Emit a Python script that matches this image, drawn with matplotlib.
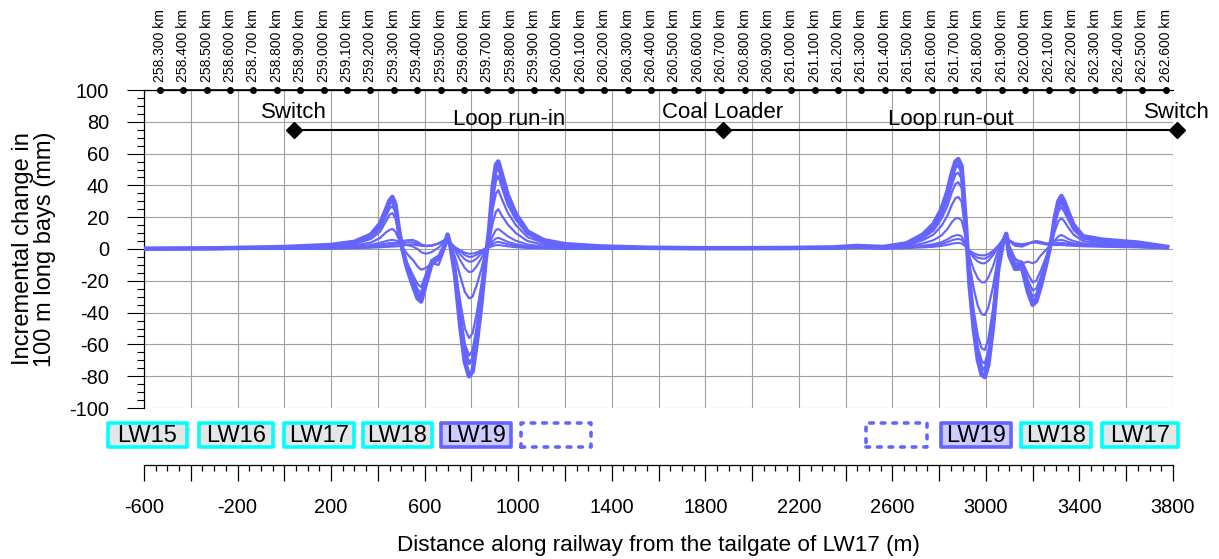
import matplotlib
matplotlib.use('Agg')
import matplotlib.pyplot as plt
from matplotlib.patches import Rectangle
from matplotlib.ticker import MultipleLocator, FuncFormatter

plt.rcParams['font.family'] = ['Liberation Sans', 'DejaVu Sans']
plt.rcParams['axes.unicode_minus'] = False

# ---------------- data ----------------
x_left = [-600, -300, 0, 200, 300, 370, 410, 435, 450, 462, 475, 490, 505, 525, 550,
          570, 585, 605, 630, 660, 685, 698, 712, 730, 752, 772, 790, 805, 822, 842,
          860, 876, 892, 905, 915, 930, 955, 990, 1040, 1110, 1200, 1350, 1550, 1750]
x_right = [1950, 2150, 2350, 2450, 2560, 2660, 2730, 2775, 2810, 2835, 2855, 2870, 2882,
           2896, 2914, 2930, 2948, 2966, 2982, 2995, 3010, 3030, 3052, 3073, 3087, 3100,
           3125, 3155, 3180, 3200, 3215, 3235, 3260, 3282, 3295, 3310, 3323, 3335, 3350,
           3375, 3415, 3500, 3650, 3775]

inc1_left = [0, 0, 0.1, 0.3, 0.5, 0.8, 1.1, 1.3, 1.4, 1.5, 1.6, 1.8, 2.2, 2.6, 2.8,
             2.4, 2.0, 1.8, 2.2, 3.5, 5.5, 8.0, 3.5, 1.2, -0.8, -2.3, -3.0, -2.9, -2.2, -0.9,
             0.3, 1.0, 1.9, 2.4, 2.5, 2.2, 1.7, 1.1, 0.6, 0.4, 0.2, 0.1, 0.1, 0.1]
inc2_left = [0, 0.1, 0.2, 0.4, 0.7, 1.2, 1.8, 2.2, 2.4, 2.5, 2.7, 3.2, 3.8, 4.2, 4.2,
             3.4, 2.5, 2.0, 2.2, 3.5, 5.5, 8.2, 3.5, 1.0, -1.5, -3.8, -5.0, -4.8, -3.6, -1.6,
             0.3, 1.5, 3.2, 4.2, 4.5, 4.0, 3.0, 2.0, 1.1, 0.6, 0.4, 0.2, 0.1, 0.1]
inc3_left = [0, 0.1, 0.3, 0.6, 1.0, 1.8, 2.8, 3.4, 3.7, 3.8, 3.9, 4.3, 5.0, 5.5, 5.7,
             4.5, 3.0, 2.0, 2.0, 3.5, 5.5, 8.3, 3.5, 0.5, -3.5, -6.5, -8.0, -7.8, -6.0, -3.0,
             0, 2.0, 5.0, 6.6, 7.0, 6.2, 4.5, 3.0, 1.7, 1.0, 0.6, 0.4, 0.2, 0.1]
inc4_left = [0.1, 0.2, 0.4, 0.8, 1.4, 2.5, 4.0, 5.0, 5.5, 5.7, 5.4, 4.5, 3.5, 2.5, 1.5,
             0, -2.0, -3.0, -2.0, 1.0, 4.5, 8.4, 3.0, -1.0, -7.0, -12.0, -14.5, -14.0, -11.0, -6.0,
             -1.0, 3.0, 8.5, 12.0, 12.6, 11.0, 8.0, 5.2, 2.8, 1.5, 0.9, 0.5, 0.3, 0.2]
inc5_left = [0.1, 0.2, 0.6, 1.2, 2.2, 4.0, 7.0, 10.5, 12.0, 12.6, 11.0, 6.0, 1.0, -3.0, -7.0,
             -11.0, -13.0, -12.0, -9.0, -10.0, 0, 8.5, 2.0, -5.0, -17.0, -27.0, -31.0, -30.0, -23.0, -13.0,
             -2.0, 5.0, 17.0, 23.5, 25.0, 21.0, 15.5, 10.0, 5.0, 2.6, 1.5, 0.9, 0.5, 0.3]
inc6_left = [0.1, 0.3, 0.9, 1.8, 3.2, 6.3, 11.0, 17.5, 21.5, 22.6, 19.5, 8.5, 0, -8.5, -16.5,
             -22.0, -24.0, -16.0, -7.0, -4.0, 2.0, 8.5, 1.0, -11.0, -33.0, -50.0, -56.0, -53.0, -41.0, -23.0,
             -4.0, 8.0, 26.0, 35.0, 37.0, 31.5, 23.0, 15.0, 7.5, 3.8, 2.1, 1.2, 0.6, 0.4]
inc7_left = [0.2, 0.3, 1.0, 2.1, 3.8, 7.5, 13.0, 21.0, 25.5, 27.0, 23.5, 10.0, 0, -10.0, -19.0,
             -25.5, -27.5, -18.0, -7.0, -4.5, 2.0, 8.7, 1.0, -13.0, -40.0, -60.0, -67.0, -64.0, -50.0, -28.0,
             -5.0, 10.0, 32.0, 43.0, 46.0, 39.0, 28.0, 18.5, 9.5, 4.5, 2.5, 1.4, 0.7, 0.4]
inc8_left = [0.2, 0.4, 1.1, 2.3, 4.2, 8.5, 15.0, 23.5, 28.5, 30.0, 26.0, 11.0, 0, -11.0, -21.0,
             -28.0, -30.0, -20.0, -8.0, -5.5, 2.0, 8.8, 1.0, -14.0, -43.0, -64.0, -72.0, -69.0, -54.0, -31.0,
             -6.0, 12.0, 37.0, 49.0, 52.0, 44.0, 32.0, 21.0, 10.5, 5.0, 2.8, 1.5, 0.8, 0.5]
inc9_left = [0.2, 0.4, 1.2, 2.5, 4.5, 9.0, 16.0, 25.0, 30.5, 32.7, 28.0, 12.0, 0, -12.0, -23.0,
             -31.0, -33.0, -22.0, -9.0, -6.0, 2.0, 9.0, 1.0, -16.0, -48.0, -71.0, -80.0, -77.0, -60.0, -35.0,
             -8.0, 12.0, 40.0, 53.0, 55.0, 47.0, 34.0, 22.0, 11.0, 5.5, 3.0, 1.6, 0.8, 0.5]

inc1_right = [0.2, 0.2, 0.3, 0.6, 0.3, 0.6, 1.0, 1.4, 2.0, 2.6, 3.3, 3.7, 3.8, 3.5, 1.5,
              -1.0, -2.7, -3.7, -4.0, -4.0, -3.2, -1.2, 2.0, 6.0, 8.0, 5.5, 3.5, 3.0, 3.5, 4.0,
              4.0, 3.5, 2.8, 2.5, 2.5, 2.5, 2.5, 2.4, 2.2, 2.0, 1.7, 1.4, 1.0, 0.4]
inc2_right = [0.2, 0.2, 0.3, 0.7, 0.4, 0.8, 1.5, 2.2, 3.1, 4.3, 5.5, 6.1, 6.3, 5.8, 2.6,
              -1.5, -4.0, -5.5, -6.0, -6.0, -5.0, -2.5, 1.5, 6.0, 8.5, 5.5, 3.0, 2.5, 3.5, 4.5,
              4.8, 4.2, 3.2, 3.3, 3.6, 3.8, 3.8, 3.6, 3.2, 2.7, 2.2, 1.8, 1.3, 0.5]
inc3_right = [0.2, 0.3, 0.4, 0.8, 0.5, 1.0, 2.0, 3.0, 4.3, 6.0, 7.8, 8.6, 8.8, 8.0, 3.5,
              -2.0, -5.5, -8.0, -9.0, -9.0, -7.5, -4.0, 1.0, 6.0, 8.5, 5.0, 2.0, 1.5, 3.0, 4.5,
              5.0, 4.5, 3.5, 4.0, 5.0, 5.5, 5.7, 5.3, 4.5, 3.5, 2.7, 2.2, 1.6, 0.6]
inc4_right = [0.3, 0.3, 0.5, 1.0, 0.6, 1.5, 3.5, 5.5, 8.5, 12.5, 17.0, 19.2, 19.5, 18.0, 7.0,
              -5.0, -13.0, -18.5, -21.0, -21.0, -18.0, -11.0, -1.0, 6.0, 8.5, 2.0, -6.0, -9.0, -8.0, -9.0,
              -8.0, -4.0, 0, 3.0, 5.5, 8.0, 8.8, 8.0, 6.5, 5.0, 3.5, 2.8, 2.0, 0.7]
inc5_right = [0.3, 0.4, 0.6, 1.2, 0.8, 2.2, 5.5, 9.0, 14.5, 21.0, 28.0, 32.0, 32.7, 30.0, 10.0,
              -10.0, -25.0, -36.0, -41.0, -41.5, -37.0, -24.0, -5.0, 5.0, 8.5, -1.0, -7.0, -8.0, -16.0, -21.0,
              -20.0, -13.5, -4.0, 4.5, 11.5, 17.5, 19.5, 17.5, 14.0, 9.0, 5.0, 3.6, 2.6, 0.8]
inc6_right = [0.4, 0.5, 0.7, 1.4, 0.9, 2.7, 6.8, 11.5, 19.0, 27.0, 36.0, 41.0, 42.0, 38.5, 12.0,
              -17.0, -39.0, -55.0, -62.5, -63.5, -57.0, -38.0, -9.5, 4.0, 8.5, -2.0, -9.0, -9.0, -20.0, -26.0,
              -25.0, -17.5, -6.0, 5.5, 15.5, 23.5, 26.4, 23.5, 19.0, 12.0, 6.5, 4.6, 3.2, 1.0]
inc7_right = [0.4, 0.5, 0.8, 1.6, 1.0, 3.0, 7.8, 13.0, 21.5, 31.0, 41.0, 47.0, 48.0, 44.0, 14.0,
              -19.0, -44.0, -62.0, -70.5, -72.0, -65.0, -43.0, -11.0, 4.0, 9.0, -2.5, -10.5, -10.0, -23.0, -30.0,
              -28.5, -20.0, -7.0, 6.0, 17.0, 26.0, 29.0, 26.0, 21.0, 13.0, 7.0, 5.0, 3.5, 1.1]
inc8_right = [0.5, 0.6, 0.9, 1.7, 1.1, 3.3, 8.5, 14.5, 23.5, 34.0, 45.0, 51.5, 52.8, 48.5, 15.0,
              -21.0, -47.0, -66.0, -74.5, -76.0, -69.0, -46.0, -12.0, 4.0, 9.5, -3.0, -11.5, -11.0, -25.0, -33.0,
              -31.0, -21.5, -7.5, 6.5, 18.5, 28.0, 31.0, 28.0, 22.5, 14.0, 7.5, 5.4, 3.8, 1.2]
inc9_right = [0.5, 0.6, 1.0, 1.9, 1.2, 3.5, 9.0, 15.5, 25.0, 36.0, 48.0, 55.0, 56.5, 52.0, 16.0,
              -22.0, -50.0, -70.0, -79.0, -80.5, -73.0, -49.0, -13.0, 4.0, 9.5, -4.0, -12.5, -12.0, -27.0, -35.0,
              -33.0, -23.0, -8.0, 7.0, 20.0, 30.0, 33.3, 30.0, 24.0, 15.0, 8.0, 5.8, 4.0, 1.3]

km_values = [258.3, 258.4, 258.5, 258.6, 258.7, 258.8, 258.9, 259.0, 259.1, 259.2, 259.3,
             259.4, 259.5, 259.6, 259.7, 259.8, 259.9, 260.0, 260.1, 260.2, 260.3, 260.4,
             260.5, 260.6, 260.7, 260.8, 260.9, 261.0, 261.1, 261.2, 261.3, 261.4, 261.5,
             261.6, 261.7, 261.8, 261.9, 262.0, 262.1, 262.2, 262.3, 262.4, 262.5, 262.6]
km_at_zero = 258.832   # chainage of the LW17 tailgate (distance 0)

feature_x = [41, 1875, 3816]
feature_names = ['Switch', 'Coal Loader', 'Switch']
section_names = ['Loop run-in', 'Loop run-out']
section_x = [960, 2850]

panel_names = ['LW15', 'LW16', 'LW17', 'LW18', 'LW19', '', '', 'LW19', 'LW18', 'LW17']
panel_start = [-754, -365, -2, 336, 670, 1012, 2487, 2807, 3149, 3496]
panel_end = [-416, -48, 298, 631, 969, 1311, 2748, 3107, 3449, 3821]
panel_kind = ['done', 'done', 'done', 'done', 'active', 'future', 'future', 'active', 'done', 'done']

# ---------------- layout ----------------
W, H = 1219, 559
def px_rect(l, t, r, b):
    return [l / W, 1 - b / H, (r - l) / W, (b - t) / H]

LINE = '#6464ff'
fig = plt.figure(figsize=(W / 100, H / 100), dpi=100)

ax = fig.add_axes(px_rect(144, 90, 1173, 408))
ax.set_xlim(-600, 3800)
ax.set_ylim(-100, 100)
ax.xaxis.set_major_locator(MultipleLocator(200))
ax.tick_params(axis='x', which='both', length=0, labelbottom=False)
ax.yaxis.set_major_locator(MultipleLocator(20))
ax.yaxis.set_minor_locator(MultipleLocator(5))
ax.tick_params(axis='y', which='major', direction='out', length=12, width=0.8,
               pad=13, labelsize=14.4)
ax.tick_params(axis='y', which='minor', direction='out', length=5, width=0.8)
ax.grid(True, which='major', color='#a0a0a0', lw=0.8)
ax.set_axisbelow(True)
for s in ['right', 'bottom']:
    ax.spines[s].set_visible(False)
ax.spines['left'].set_linewidth(0.9)
ax.spines['top'].set_linewidth(0.9)

series = [(inc1_left, inc1_right), (inc2_left, inc2_right), (inc3_left, inc3_right),
          (inc4_left, inc4_right), (inc5_left, inc5_right), (inc6_left, inc6_right),
          (inc7_left, inc7_right), (inc8_left, inc8_right), (inc9_left, inc9_right)]
widths = [1.5, 1.5, 1.5, 1.5, 1.6, 1.6, 1.7, 2.3, 3.3]
xs = x_left + x_right
for (yl, yr), w in zip(series, widths):
    ax.plot(xs, yl + yr, color=LINE, lw=w, solid_joinstyle='round', zorder=3)

# km chainage markers along the top
km_dist = [(k - km_at_zero) * 1000 for k in km_values]
ax.plot(km_dist, [100] * len(km_dist), color='black', lw=1.2, marker='o', ms=4,
        clip_on=False, zorder=5)
for k, d in zip(km_values, km_dist):
    ax.annotate(f'{k:.3f} km', (d, 100), xytext=(0, 6), textcoords='offset points',
                rotation=90, ha='center', va='bottom', fontsize=10,
                annotation_clip=False)

# switches / coal loader
ax.plot(feature_x, [75] * len(feature_x), color='black', lw=1.5, marker='D', ms=8,
        clip_on=False, zorder=5)
for x, n in zip(feature_x, feature_names):
    ax.text(x, 82.4, n, ha='center', va='baseline', fontsize=16, clip_on=False)
for x, n in zip(section_x, section_names):
    ax.text(x, 78, n, ha='center', va='baseline', fontsize=16)

# longwall panel boxes
axb = fig.add_axes(px_rect(144, 423, 1173, 447))
axb.set_xlim(-600, 3800)
axb.set_ylim(0, 1)
axb.axis('off')
styles = {
    'done': dict(ec='#00ffff', fc='#e6e6e6', ls='-'),
    'active': dict(ec='#6464ff', fc='#ccccff', ls='-'),
    'future': dict(ec='#6464ff', fc='none', ls=(0, (1, 2.2))),
}
for n, a, b, k in zip(panel_names, panel_start, panel_end, panel_kind):
    st = styles[k]
    axb.add_patch(Rectangle((a, 0), b - a, 1, ec=st['ec'], fc=st['fc'], ls=st['ls'],
                            lw=2.6, clip_on=False, joinstyle='round',
                            capstyle='round'))
    if n:
        axb.text((a + b) / 2, 0.45, n, ha='center', va='center', fontsize=17)

# bottom distance axis
axd = fig.add_axes(px_rect(144, 464, 1173, 465))
axd.set_xlim(-600, 3800)
axd.set_yticks([])
for s in ['top', 'left', 'right']:
    axd.spines[s].set_visible(False)
axd.spines['bottom'].set_linewidth(0.9)
axd.xaxis.set_major_locator(MultipleLocator(200))
axd.xaxis.set_minor_locator(MultipleLocator(50))
axd.xaxis.set_major_formatter(FuncFormatter(
    lambda v, p: f'{v:.0f}' if round(v + 600) % 400 == 0 else ''))
axd.tick_params(axis='x', which='major', direction='out', length=11.5, width=0.9,
                pad=12, labelsize=14.4)
axd.tick_params(axis='x', which='minor', direction='out', length=4.5, width=0.9)
axd.set_xlabel('Distance along railway from the tailgate of LW17 (m)', fontsize=16.2,
               labelpad=13)

fig.text(34 / W, 1 - 249 / H, 'Incremental change in\n100 m long bays (mm)',
         rotation=90, ha='center', va='center', fontsize=17, linespacing=1.05)

fig.savefig('out.png', dpi=100)
